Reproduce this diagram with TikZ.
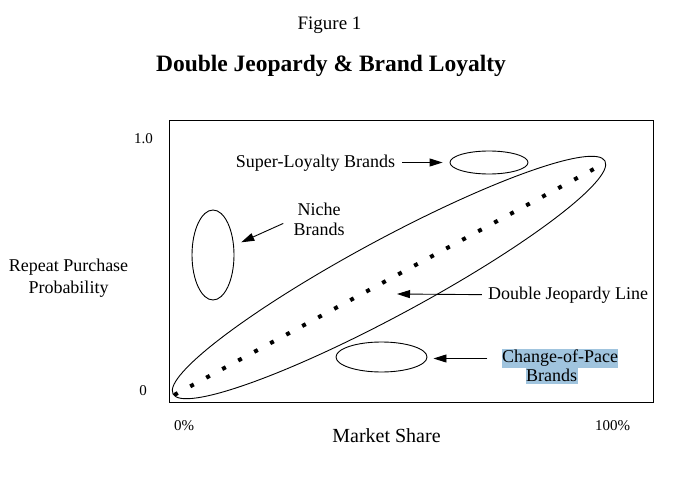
\documentclass[tikz,border=0pt]{standalone}
\usepackage{fontspec}
\setmainfont{Liberation Serif}
\usetikzlibrary{shapes.geometric,arrows.meta}
\definecolor{hilite}{RGB}{160,196,222}
\begin{document}
\begin{tikzpicture}[x=1pt,y=-1pt,
  lbl/.style={font=\fontsize{18}{20}\selectfont,inner sep=0pt,anchor=base},
  tick/.style={font=\fontsize{15}{18}\selectfont,inner sep=0pt,anchor=base},
  brand/.style={draw,ellipse,inner sep=0pt,line width=0.9pt},
  pointer/.style={line width=0.9pt,-{Triangle[length=13pt,width=8pt]}},
  marked/.style={lbl,fill=hilite,inner xsep=0.5pt}]
  \useasboundingbox (0,0) rectangle (676,478);
  \node[lbl,font=\fontsize{19}{22}\selectfont] (fig) at (329.5,30) {Figure 1};
  \node[lbl,font=\fontsize{23.5}{26}\selectfont\bfseries] (title) at (331,72) {Double Jeopardy \& Brand Loyalty};
  \draw[line width=1pt] (169,121) rectangle (653,402);
  \node[tick] (ytop) at (143.5,144) {1.0};
  \node[tick] (ybot) at (143,395) {0};
  \node[tick] (xleft) at (184,430) {0\%};
  \node[tick] (xright) at (612.5,430) {100\%};
  \node[lbl,font=\fontsize{20}{22}\selectfont] (xlabel) at (386.5,442) {Market Share};
  \node[lbl,font=\fontsize{18}{22}\selectfont,align=center,anchor=center] (ylabel) at (68.5,277.8) {Repeat Purchase\\Probability};
  \node[brand,minimum width=490.8pt,minimum height=76pt,rotate=28.34] (djbrand) at (389,277.5) {};
  \draw[line width=4pt,line cap=rect,dash pattern=on 0.01pt off 18.16pt] (176,394) -- (592,170);
  \node[brand,minimum width=78pt,minimum height=23pt] (slbrand) at (489,162.5) {};
  \node[brand,minimum width=42pt,minimum height=90pt] (nichebrand) at (213,255) {};
  \node[brand,minimum width=91pt,minimum height=30pt] (copbrand) at (381.5,357) {};
  \node[lbl] (slbtxt) at (315.5,168) {Super-Loyalty Brands};
  \node[lbl,align=center,anchor=center] (nichetxt) at (319,218.9) {Niche\\Brands};
  \node[lbl] (djtxt) at (568,299) {Double Jeopardy Line};
  \node[marked,text height=13pt,text depth=6pt] (coptxt) at (560,362) {Change-of-Pace};
  \node[marked,text height=13pt,text depth=3pt] (coptxtb) at (551.5,381) {Brands};
  \coordinate (djtip) at (397,294);
  \draw[pointer,shorten <=7pt,shorten >=7pt] (slbtxt.east |- slbrand.west) -- (slbrand.west);
  \draw[pointer,shorten <=11pt,shorten >=31pt] (nichetxt.west) -- (nichebrand.center);
  \draw[pointer,shorten <=6pt] (djtxt.west) -- (djtip);
  \draw[pointer,shorten <=14pt,shorten >=6pt] (coptxt.west) -- (coptxt.west -| copbrand.east);
\end{tikzpicture}
\end{document}
